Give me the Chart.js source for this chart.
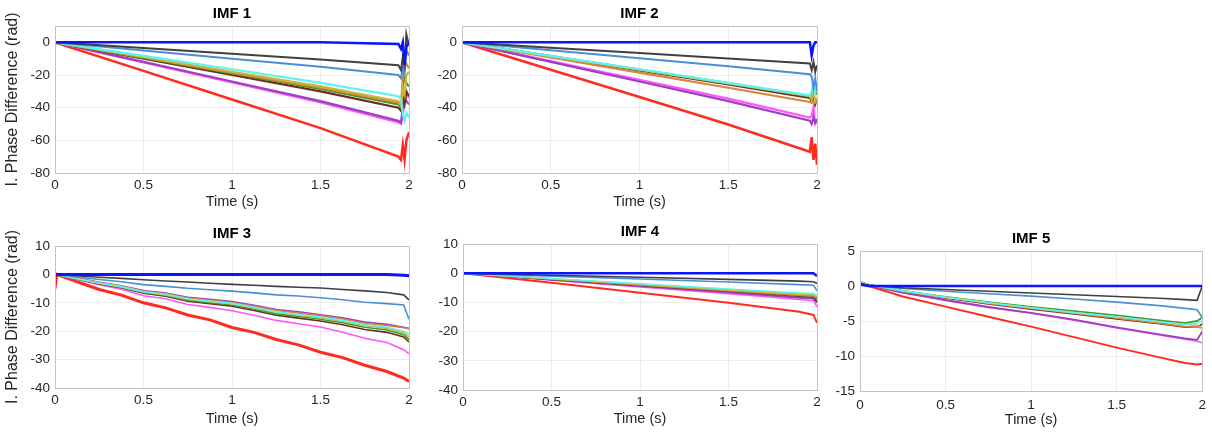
<!DOCTYPE html>
<html>
<head>
<meta charset="utf-8">
<script src="https://cdn.jsdelivr.net/npm/chart.js@4.4.1/dist/chart.umd.min.js"></script>
<style>
  body { margin: 0; background: #fff; width: 1212px; height: 432px; position: relative; overflow: hidden; }
  canvas { position: absolute; }
</style>
</head>
<body>
<canvas id="imf1"></canvas>
<canvas id="imf2"></canvas>
<canvas id="imf3"></canvas>
<canvas id="imf4"></canvas>
<canvas id="imf5"></canvas>
<script>
let seriesNames = ['blue', 'black', 'steel', 'cyan', 'olive', 'orange', 'green', 'maroon', 'purple', 'magenta', 'red']
let seriesColours = ['#0a14ff', '#404040', '#4a8fd4', '#5ef2f2', '#c9b53a', '#d9843c', '#3e9a2a', '#6e2c1e', '#9c40c0', '#ff55ff', '#ff2b1f']

// IMF 1
let t1 = [0, 0.5, 1, 1.5, 1.94, 1.955, 1.965, 1.975, 1.985, 2]
let blue1 = [0, 0, 0, 0, -1, -4, 0, -14, -3, 0]
let black1 = [0, -3.5, -7, -10.5, -14, -17, -9, -14, 5, -2]
let steel1 = [0, -5, -10, -15, -20, -22, -15, -19, -5, -8]
let cyan1 = [0, -8.3, -16.5, -24.8, -33, -35, -44, -48, -43, -46]
let olive1 = [0, -9, -18, -27, -36, -38, -28, -32, -20, -18]
let orange1 = [0, -9.3, -18.5, -27.8, -37, -39, -22, -15, -13, -16]
let green1 = [0, -9.5, -19, -28.5, -38, -40, -26, -22, -25, -27]
let maroon1 = [0, -10, -20, -30, -40, -42, -34, -38, -30, -33]
let purple1 = [0, -12, -24, -36, -48, -49, -40, -33, -36, -38]
let magenta1 = [0, -12.3, -24.5, -36.8, -49, -50, -44, -35, -31, -34]
let red1 = [0, -17.5, -35, -52.5, -70, -72, -63, -72, -60, -55]

// IMF 2
let t2 = [0, 0.5, 1, 1.5, 1.96, 1.97, 1.98, 1.99, 2]
let blue2 = [0, 0, 0, 0, 0, -8, -2, 0, 0]
let black2 = [0, -3.3, -6.6, -9.9, -13, -17, -12, -18, -14]
let steel2 = [0, -4.9, -9.8, -14.7, -19.5, -21, -28, -22, -30]
let cyan2 = [0, -8.3, -16.5, -24.8, -32.5, -30, -25, -31, -28]
let olive2 = [0, -8.4, -16.8, -25.2, -33, -35, -30, -36, -34]
let orange2 = [0, -9.3, -18.5, -27.8, -36.5, -37, -36, -37, -37]
let green2 = [0, -8.4, -16.7, -25, -33, -34, -28, -30, -32]
let maroon2 = [0, -8.6, -17.2, -25.8, -34, -36, -32, -38, -35]
let purple2 = [0, -12, -24, -36, -48, -50, -46, -49, -47]
let magenta2 = [0, -11.5, -23, -34.5, -46, -45, -40, -50, -48]
let red2 = [0, -16.8, -33.5, -50.3, -67, -58, -72, -62, -75]

// IMF 3
let t3 = [0, 0.01, 0.125, 0.25, 0.375, 0.5, 0.625, 0.75, 0.875, 1, 1.125, 1.25, 1.375, 1.5, 1.625, 1.75, 1.875, 1.97, 2]
let blue3 = [0, 0, 0, 0, 0, 0, 0, 0, 0, 0, 0, 0, 0, 0, 0, 0, 0, -0.3, -0.5]
let black3 = [0, 0, -0.5, -1, -1.4, -1.9, -2.3, -2.7, -3.1, -3.5, -3.8, -4.2, -4.5, -4.8, -5.3, -5.8, -6.4, -7.2, -9]
let steel3 = [0, 0, -0.9, -1.8, -2.6, -3.6, -4.2, -4.9, -5.4, -5.9, -6.5, -7.2, -7.6, -8.2, -8.9, -9.8, -10.3, -10.8, -15.8]
let cyan3 = [0, 0, -1.5, -3, -4.3, -6.1, -7, -8.6, -9.4, -10.2, -11.6, -13.2, -14.1, -15, -16.2, -17.7, -18.6, -20, -21]
let olive3 = [0, 0, -1.5, -3.1, -4.4, -6.2, -7.2, -8.8, -9.6, -10.4, -11.8, -13.4, -14.3, -15.3, -16.5, -18, -19, -20.5, -22]
let orange3 = [0, 0, -1.4, -2.9, -4.1, -5.9, -6.8, -8.3, -9.1, -9.9, -11.2, -12.7, -13.6, -14.6, -15.7, -17.2, -18, -18.8, -19.2]
let green3 = [0, 0, -1.6, -3.2, -4.6, -6.4, -7.4, -9.1, -10, -10.8, -12.2, -13.9, -14.8, -15.8, -17, -18.6, -19.6, -21.2, -23]
let maroon3 = [0, 0, -1.6, -3.3, -4.7, -6.6, -7.7, -9.4, -10.3, -11.2, -12.7, -14.4, -15.4, -16.4, -17.7, -19.4, -20.4, -22, -23.8]
let purple3 = [0, 0, -1.3, -2.8, -4, -5.7, -6.6, -8.1, -8.8, -9.6, -10.9, -12.4, -13.2, -14.2, -15.3, -16.8, -17.6, -18.6, -19]
let magenta3 = [0, 0, -1.8, -3.6, -5.2, -7.5, -8.6, -10.6, -11.6, -12.8, -14.4, -16.2, -17.4, -18.5, -20.4, -22.5, -24, -26.5, -28]
let red3 = [-5, 0, -2.6, -5.3, -7.3, -10, -11.8, -14.3, -16, -18.7, -20.4, -22.9, -24.8, -27.4, -29.3, -32, -34.2, -36.5, -37.7]

// IMF 4
let t4 = [0, 0.5, 1, 1.5, 1.9, 1.98, 2]
let blue4 = [0, 0, 0, 0, 0, 0, -1]
let black4 = [0, -0.7, -1.4, -2.1, -2.7, -2.9, -3.5]
let steel4 = [0, -1, -2, -3, -3.9, -4.1, -6]
let cyan4 = [0, -1.8, -3.6, -5.4, -6.8, -7, -7.5]
let olive4 = [0, -1.9, -3.8, -5.7, -7.2, -7.4, -8]
let orange4 = [0, -2, -4, -6, -7.5, -7.8, -8.3]
let green4 = [0, -2, -4, -6, -7.6, -7.9, -9]
let maroon4 = [0, -2.1, -4.2, -6.2, -7.9, -8.2, -10]
let purple4 = [0, -2.2, -4.4, -6.6, -8.4, -8.7, -10]
let magenta4 = [0, -2.4, -4.7, -7, -9, -9.4, -11.5]
let red4 = [0, -3.3, -6.7, -10.1, -13.2, -14.3, -17]

// IMF 5
let t5 = [0, 0.05, 0.25, 0.5, 0.75, 1, 1.25, 1.5, 1.75, 1.9, 1.97, 2]
let blue5 = [0.2, 0, 0, 0, 0, 0, 0, 0, 0, 0, 0, 0]
let black5 = [0.4, 0.1, -0.25, -0.5, -0.75, -1, -1.25, -1.5, -1.75, -1.95, -2.05, 0]
let steel5 = [0.3, 0.1, -0.35, -0.75, -1.1, -1.45, -1.85, -2.3, -2.8, -3.2, -3.4, -4.5]
let cyan5 = [0.5, 0.2, -0.7, -1.6, -2.4, -3.1, -3.8, -4.4, -5.1, -5.5, -5.3, -5]
let olive5 = [0.5, 0.2, -0.7, -1.6, -2.4, -3.1, -3.8, -4.4, -5.1, -5.5, -5.6, -6]
let orange5 = [0.5, 0.2, -0.75, -1.65, -2.5, -3.2, -3.9, -4.6, -5.3, -5.8, -5.9, -6]
let green5 = [0.6, 0.2, -0.7, -1.55, -2.3, -3, -3.6, -4.2, -4.9, -5.3, -5, -4.5]
let maroon5 = [0.5, 0.2, -0.75, -1.7, -2.55, -3.3, -4, -4.7, -5.4, -5.9, -5.9, -5.4]
let purple5 = [0.4, 0.1, -0.95, -2, -3, -3.85, -4.8, -5.9, -6.9, -7.5, -7.7, -6.5]
let magenta5 = [0.4, 0.1, -0.95, -2.05, -3.05, -3.9, -4.9, -6, -7, -7.6, -7.9, -8.1]
let red5 = [0.3, 0, -1.5, -2.95, -4.4, -5.8, -7.3, -8.8, -10.2, -11, -11.2, -11.1]

let xTicks = {min: 0, max: 2, step: 0.5}

Chart.defaults.font.family = "'Liberation Sans', Arial, sans-serif"
Chart.defaults.color = '#262626'

// MATLAB style box around the axes
const boxPlugin = {
  id: 'axesBox',
  afterDraw(chart) {
    let a = chart.chartArea
    let ctx = chart.ctx
    ctx.save()
    ctx.strokeStyle = '#c4c4c4'
    ctx.lineWidth = 1
    ctx.strokeRect(Math.round(a.left) + 0.5, Math.round(a.top) + 0.5, Math.round(a.right - a.left), Math.round(a.bottom - a.top))
    ctx.restore()
  },
}

function drawPanel(id, box, title, times, series, yRange, yLabel, widths) {
  let canvas = document.getElementById(id)
  canvas.width = box.w
  canvas.height = box.h
  canvas.style.left = box.x + 'px'
  canvas.style.top = box.y + 'px'
  canvas.style.width = box.w + 'px'
  canvas.style.height = box.h + 'px'

  let datasets = series.map((values, i) => ({
    label: seriesNames[i],
    data: values.map((v, k) => ({x: times[k], y: v})),
    borderColor: seriesColours[i],
    backgroundColor: seriesColours[i],
    borderWidth: widths[i],
    pointRadius: 0,
    tension: 0,
    fill: false,
  }))

  new Chart(canvas, {
    type: 'line',
    data: {datasets: datasets},
    options: {
      responsive: false,
      animation: false,
      layout: {padding: {left: 0, right: box.padRight, top: 0, bottom: 0}},
      plugins: {
        legend: {display: false},
        tooltip: {enabled: false},
        title: {
          display: true,
          text: title,
          fullSize: false,
          color: '#000',
          font: {size: 15, weight: 'bold', lineHeight: 1},
          padding: {top: 6, bottom: 5},
        },
      },
      scales: {
        x: {
          type: 'linear',
          min: xTicks.min,
          max: xTicks.max,
          ticks: {stepSize: xTicks.step, padding: box.xPad, maxRotation: 0, font: {size: 13.5},
            callback: v => String(v)},
          grid: {color: '#ececec', drawTicks: false},
          border: {display: false},
          title: {display: true, text: 'Time (s)', font: {size: 14.5}, padding: {top: 0, bottom: 4}},
          afterFit: s => { s.height = box.xH },
        },
        y: {
          type: 'linear',
          min: yRange.min,
          max: yRange.max,
          ticks: {stepSize: yRange.step, includeBounds: false, padding: 5, font: {size: 13.5}},
          grid: {color: '#ececec', drawTicks: false},
          border: {display: false},
          title: {display: yLabel, text: 'I. Phase Difference (rad)', font: {size: 16}, padding: {top: 3, bottom: 0}},
          afterFit: s => { s.width = box.yW },
        },
      },
    },
    plugins: [boxPlugin],
  })
}

let w1 = [2.5, 2, 2, 2.2, 2.2, 2.2, 2.2, 2.2, 2.2, 2.2, 2.5]
let w3 = [3, 1.6, 1.6, 1.6, 1.6, 1.6, 1.6, 1.6, 1.6, 1.6, 3]
let w5 = [2.5, 1.6, 1.6, 1.6, 1.6, 1.6, 1.8, 1.6, 1.8, 1.6, 2]

drawPanel('imf1', {x: 0, y: 0, w: 419, h: 215, yW: 55, xH: 42, xPad: 4, padRight: 10}, 'IMF 1', t1,
  [blue1, black1, steel1, cyan1, olive1, orange1, green1, maroon1, purple1, magenta1, red1],
  {min: -80, max: 10, step: 20}, true, w1)

drawPanel('imf2', {x: 417, y: 0, w: 410, h: 215, yW: 45, xH: 42, xPad: 4, padRight: 10}, 'IMF 2', t2,
  [blue2, black2, steel2, cyan2, olive2, orange2, green2, maroon2, purple2, magenta2, red2],
  {min: -80, max: 10, step: 20}, false, w1)

drawPanel('imf3', {x: 0, y: 220, w: 419, h: 212, yW: 55, xH: 44, xPad: 4, padRight: 10}, 'IMF 3', t3,
  [blue3, black3, steel3, cyan3, olive3, orange3, green3, maroon3, purple3, magenta3, red3],
  {min: -40, max: 10, step: 10}, true, w3)

drawPanel('imf4', {x: 418, y: 218, w: 409, h: 214, yW: 45, xH: 42, xPad: 4, padRight: 10}, 'IMF 4', t4,
  [blue4, black4, steel4, cyan4, olive4, orange4, green4, maroon4, purple4, magenta4, red4],
  {min: -40, max: 10, step: 10}, false, w5)

drawPanel('imf5', {x: 815, y: 225, w: 397, h: 208, yW: 45, xH: 42, xPad: 6, padRight: 8}, 'IMF 5', t5,
  [blue5, black5, steel5, cyan5, olive5, orange5, green5, maroon5, purple5, magenta5, red5],
  {min: -15, max: 5, step: 5}, false, w5)
</script>
</body>
</html>
